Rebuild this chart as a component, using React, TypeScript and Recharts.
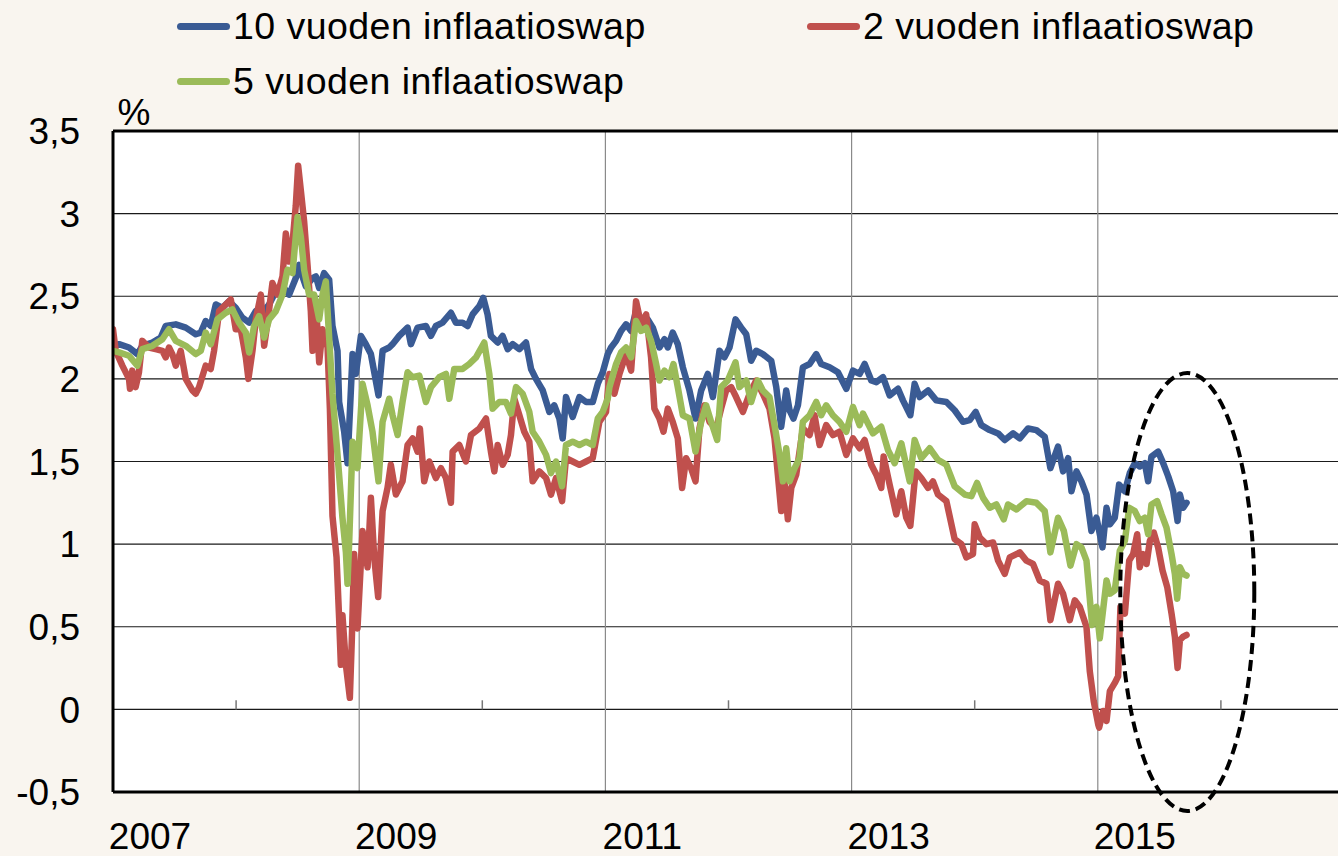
import React from "react";
import {
  LineChart,
  Line,
  XAxis,
  YAxis,
  CartesianGrid,
  Legend,
  ReferenceLine,
  ReferenceDot,
} from "recharts";

// [decimal year, %]
const tenYear: [number, number][] = [
  [2007.0, 2.2], [2007.049, 2.21], [2007.13, 2.19], [2007.198, 2.15], [2007.238, 2.2], [2007.32, 2.22],
  [2007.388, 2.25], [2007.428, 2.32], [2007.51, 2.33], [2007.591, 2.31], [2007.672, 2.27], [2007.713, 2.28],
  [2007.753, 2.35], [2007.794, 2.32], [2007.835, 2.45], [2007.889, 2.43], [2007.943, 2.47], [2007.997, 2.43],
  [2008.051, 2.37], [2008.106, 2.34], [2008.16, 2.41], [2008.214, 2.4], [2008.268, 2.45], [2008.323, 2.53],
  [2008.377, 2.56], [2008.431, 2.51], [2008.485, 2.61], [2008.512, 2.69], [2008.539, 2.62], [2008.566, 2.56],
  [2008.621, 2.61], [2008.648, 2.62], [2008.675, 2.55], [2008.715, 2.64], [2008.756, 2.6], [2008.783, 2.32],
  [2008.824, 2.17], [2008.837, 1.86], [2008.878, 1.68], [2008.905, 1.49], [2008.946, 2.15], [2008.973, 2.03],
  [2009.014, 2.26], [2009.054, 2.21], [2009.095, 2.15], [2009.157, 1.9], [2009.19, 2.17], [2009.244, 2.19],
  [2009.271, 2.21], [2009.325, 2.26], [2009.393, 2.31], [2009.42, 2.21], [2009.474, 2.31], [2009.542, 2.32],
  [2009.583, 2.26], [2009.623, 2.32], [2009.677, 2.34], [2009.745, 2.4], [2009.786, 2.34], [2009.84, 2.34],
  [2009.881, 2.32], [2009.921, 2.39], [2009.976, 2.44], [2010.008, 2.49], [2010.043, 2.39], [2010.07, 2.26],
  [2010.125, 2.22], [2010.165, 2.26], [2010.206, 2.18], [2010.247, 2.21], [2010.301, 2.18], [2010.355, 2.22],
  [2010.396, 2.06], [2010.436, 2.0], [2010.491, 1.93], [2010.545, 1.8], [2010.585, 1.84], [2010.626, 1.76],
  [2010.653, 1.64], [2010.68, 1.89], [2010.734, 1.77], [2010.789, 1.89], [2010.843, 1.86], [2010.897, 1.86],
  [2010.938, 1.97], [2010.978, 2.04], [2011.019, 2.15], [2011.046, 2.19], [2011.087, 2.23], [2011.127, 2.29],
  [2011.168, 2.33], [2011.209, 2.29], [2011.249, 2.41], [2011.29, 2.35], [2011.344, 2.36], [2011.385, 2.31],
  [2011.439, 2.19], [2011.48, 2.24], [2011.507, 2.19], [2011.547, 2.28], [2011.588, 2.21], [2011.629, 2.07],
  [2011.683, 1.93], [2011.732, 1.76], [2011.778, 1.93], [2011.832, 2.03], [2011.873, 1.89], [2011.927, 2.17],
  [2011.967, 2.13], [2012.008, 2.19], [2012.057, 2.36], [2012.103, 2.31], [2012.144, 2.27], [2012.184, 2.11],
  [2012.225, 2.17], [2012.279, 2.15], [2012.347, 2.11], [2012.388, 1.95], [2012.428, 1.71], [2012.469, 1.93],
  [2012.496, 1.81], [2012.528, 1.76], [2012.564, 1.84], [2012.604, 2.07], [2012.659, 2.09], [2012.713, 2.15],
  [2012.753, 2.09], [2012.821, 2.07], [2012.889, 2.04], [2012.957, 1.94], [2013.011, 2.05], [2013.065, 2.03],
  [2013.106, 2.09], [2013.16, 1.99], [2013.201, 1.98], [2013.255, 2.01], [2013.309, 1.9], [2013.377, 1.94],
  [2013.417, 1.87], [2013.477, 1.78], [2013.512, 1.97], [2013.553, 1.89], [2013.621, 1.93], [2013.688, 1.87],
  [2013.77, 1.86], [2013.837, 1.81], [2013.905, 1.74], [2013.959, 1.75], [2014.008, 1.8], [2014.054, 1.72],
  [2014.122, 1.69], [2014.19, 1.67], [2014.244, 1.63], [2014.312, 1.67], [2014.366, 1.64], [2014.434, 1.7],
  [2014.501, 1.69], [2014.569, 1.65], [2014.615, 1.46], [2014.677, 1.59], [2014.718, 1.44], [2014.759, 1.52],
  [2014.786, 1.32], [2014.827, 1.44], [2014.867, 1.38], [2014.908, 1.3], [2014.948, 1.08], [2014.989, 1.16],
  [2015.038, 0.98], [2015.071, 1.22], [2015.098, 1.12], [2015.138, 1.16], [2015.173, 1.36], [2015.22, 1.32],
  [2015.26, 1.43], [2015.301, 1.49], [2015.341, 1.47], [2015.382, 1.49], [2015.409, 1.38], [2015.436, 1.53],
  [2015.49, 1.56], [2015.531, 1.49], [2015.572, 1.41], [2015.612, 1.32], [2015.648, 1.14], [2015.667, 1.3],
  [2015.694, 1.22], [2015.721, 1.25],
];

const twoYear: [number, number][] = [
  [2007.0, 2.3], [2007.022, 2.17], [2007.076, 2.08], [2007.13, 2.0], [2007.138, 1.94], [2007.157, 2.05],
  [2007.184, 1.95], [2007.211, 2.04], [2007.238, 2.23], [2007.293, 2.19], [2007.347, 2.18], [2007.401, 2.17],
  [2007.428, 2.13], [2007.455, 2.19], [2007.482, 2.15], [2007.51, 2.08], [2007.55, 2.17], [2007.591, 2.0],
  [2007.645, 1.93], [2007.672, 1.91], [2007.699, 1.95], [2007.753, 2.08], [2007.794, 2.06], [2007.821, 2.17],
  [2007.862, 2.41], [2007.916, 2.45], [2007.957, 2.48], [2007.997, 2.3], [2008.038, 2.3], [2008.079, 2.13],
  [2008.1, 2.0], [2008.133, 2.17], [2008.16, 2.36], [2008.201, 2.51], [2008.228, 2.2], [2008.255, 2.34],
  [2008.295, 2.58], [2008.336, 2.51], [2008.377, 2.62], [2008.404, 2.88], [2008.431, 2.71], [2008.458, 2.82],
  [2008.485, 3.05], [2008.504, 3.29], [2008.526, 3.14], [2008.553, 2.95], [2008.58, 2.69], [2008.607, 2.41],
  [2008.621, 2.17], [2008.648, 2.47], [2008.675, 2.1], [2008.702, 2.3], [2008.743, 2.19], [2008.762, 1.82],
  [2008.783, 1.17], [2008.816, 0.92], [2008.837, 0.55], [2008.851, 0.27], [2008.864, 0.57], [2008.892, 0.27],
  [2008.924, 0.07], [2008.94, 0.42], [2008.959, 0.94], [2008.986, 0.49], [2009.027, 1.08], [2009.068, 0.86],
  [2009.095, 1.28], [2009.122, 0.92], [2009.154, 0.68], [2009.19, 1.2], [2009.23, 1.34], [2009.257, 1.48],
  [2009.298, 1.3], [2009.352, 1.38], [2009.393, 1.6], [2009.434, 1.64], [2009.474, 1.56], [2009.493, 1.7],
  [2009.528, 1.38], [2009.569, 1.5], [2009.623, 1.4], [2009.664, 1.46], [2009.705, 1.4], [2009.745, 1.25],
  [2009.759, 1.56], [2009.813, 1.6], [2009.867, 1.5], [2009.908, 1.66], [2009.976, 1.7], [2010.03, 1.76],
  [2010.07, 1.56], [2010.098, 1.44], [2010.125, 1.6], [2010.165, 1.48], [2010.206, 1.54], [2010.233, 1.66],
  [2010.26, 1.88], [2010.301, 1.78], [2010.341, 1.68], [2010.382, 1.62], [2010.409, 1.38], [2010.463, 1.44],
  [2010.518, 1.4], [2010.558, 1.3], [2010.599, 1.4], [2010.648, 1.26], [2010.68, 1.52], [2010.734, 1.5],
  [2010.789, 1.48], [2010.843, 1.5], [2010.897, 1.52], [2010.951, 1.74], [2011.005, 1.8], [2011.033, 2.03],
  [2011.073, 1.91], [2011.114, 2.03], [2011.168, 2.15], [2011.209, 2.05], [2011.249, 2.47], [2011.29, 2.33],
  [2011.331, 2.39], [2011.371, 2.13], [2011.398, 1.82], [2011.439, 1.76], [2011.472, 1.68], [2011.507, 1.82],
  [2011.547, 1.74], [2011.588, 1.64], [2011.623, 1.34], [2011.656, 1.52], [2011.696, 1.46], [2011.732, 1.38],
  [2011.764, 1.7], [2011.805, 1.84], [2011.846, 1.74], [2011.9, 1.7], [2011.94, 1.82], [2011.981, 1.93],
  [2012.022, 1.95], [2012.062, 1.89], [2012.117, 1.8], [2012.171, 1.91], [2012.225, 1.99], [2012.279, 1.91],
  [2012.333, 1.82], [2012.374, 1.64], [2012.401, 1.42], [2012.428, 1.2], [2012.455, 1.38], [2012.482, 1.15],
  [2012.51, 1.34], [2012.55, 1.42], [2012.604, 1.7], [2012.659, 1.66], [2012.699, 1.78], [2012.74, 1.6],
  [2012.794, 1.72], [2012.848, 1.66], [2012.902, 1.68], [2012.957, 1.54], [2013.011, 1.64], [2013.065, 1.58],
  [2013.106, 1.63], [2013.16, 1.48], [2013.201, 1.42], [2013.241, 1.34], [2013.26, 1.53], [2013.309, 1.36],
  [2013.363, 1.18], [2013.404, 1.32], [2013.444, 1.16], [2013.477, 1.11], [2013.52, 1.44], [2013.566, 1.4],
  [2013.621, 1.34], [2013.661, 1.38], [2013.702, 1.3], [2013.77, 1.26], [2013.837, 1.03], [2013.892, 1.0],
  [2013.932, 0.92], [2013.986, 0.94], [2014.0, 1.12], [2014.041, 1.04], [2014.095, 1.0], [2014.149, 1.01],
  [2014.19, 0.9], [2014.244, 0.82], [2014.285, 0.92], [2014.366, 0.95], [2014.42, 0.9], [2014.474, 0.88],
  [2014.528, 0.78], [2014.583, 0.76], [2014.615, 0.54], [2014.677, 0.76], [2014.718, 0.7], [2014.772, 0.54],
  [2014.813, 0.66], [2014.854, 0.62], [2014.908, 0.5], [2014.935, 0.23], [2014.967, 0.05], [2015.003, -0.09],
  [2015.011, -0.11], [2015.043, -0.01], [2015.071, -0.07], [2015.098, 0.11], [2015.138, 0.16], [2015.165, 0.2],
  [2015.184, 0.62], [2015.22, 0.58], [2015.255, 0.9], [2015.287, 0.94], [2015.32, 1.06], [2015.341, 0.86],
  [2015.368, 0.94], [2015.396, 0.88], [2015.423, 1.02], [2015.455, 1.07], [2015.49, 0.98], [2015.526, 0.84],
  [2015.564, 0.74], [2015.599, 0.58], [2015.626, 0.44], [2015.648, 0.25], [2015.667, 0.42], [2015.694, 0.44],
  [2015.721, 0.45],
];

const fiveYear: [number, number][] = [
  [2007.0, 2.17], [2007.049, 2.16], [2007.13, 2.14], [2007.198, 2.08], [2007.238, 2.18], [2007.32, 2.2],
  [2007.401, 2.24], [2007.455, 2.3], [2007.51, 2.23], [2007.591, 2.2], [2007.672, 2.15], [2007.713, 2.17],
  [2007.753, 2.28], [2007.794, 2.21], [2007.848, 2.36], [2007.916, 2.4], [2007.97, 2.42], [2008.024, 2.34],
  [2008.079, 2.28], [2008.106, 2.16], [2008.146, 2.32], [2008.187, 2.38], [2008.228, 2.25], [2008.268, 2.36],
  [2008.323, 2.41], [2008.377, 2.51], [2008.417, 2.66], [2008.458, 2.64], [2008.499, 2.98], [2008.526, 2.86],
  [2008.553, 2.66], [2008.593, 2.51], [2008.634, 2.51], [2008.675, 2.36], [2008.702, 2.51], [2008.729, 2.59],
  [2008.756, 2.25], [2008.783, 1.91], [2008.824, 1.54], [2008.864, 1.16], [2008.892, 0.95], [2008.905, 0.76],
  [2008.919, 1.02], [2008.946, 1.62], [2008.986, 1.46], [2009.027, 1.97], [2009.068, 1.84], [2009.108, 1.68],
  [2009.157, 1.38], [2009.19, 1.74], [2009.244, 1.88], [2009.271, 1.78], [2009.312, 1.66], [2009.352, 1.86],
  [2009.393, 2.04], [2009.434, 2.01], [2009.488, 2.02], [2009.542, 1.86], [2009.583, 1.95], [2009.65, 2.01],
  [2009.705, 2.03], [2009.732, 1.88], [2009.772, 2.06], [2009.84, 2.06], [2009.894, 2.09], [2009.949, 2.13],
  [2010.016, 2.22], [2010.057, 2.03], [2010.084, 1.82], [2010.138, 1.86], [2010.192, 1.86], [2010.233, 1.79],
  [2010.274, 1.95], [2010.328, 1.91], [2010.382, 1.8], [2010.409, 1.68], [2010.463, 1.62], [2010.518, 1.54],
  [2010.558, 1.43], [2010.599, 1.5], [2010.648, 1.35], [2010.68, 1.6], [2010.734, 1.62], [2010.789, 1.6],
  [2010.843, 1.62], [2010.897, 1.6], [2010.938, 1.76], [2010.978, 1.8], [2011.019, 1.88], [2011.033, 1.95],
  [2011.087, 2.09], [2011.127, 2.16], [2011.168, 2.19], [2011.209, 2.13], [2011.249, 2.35], [2011.29, 2.29],
  [2011.331, 2.31], [2011.371, 2.23], [2011.412, 2.09], [2011.439, 1.99], [2011.48, 2.05], [2011.52, 2.01],
  [2011.553, 2.09], [2011.588, 1.95], [2011.629, 1.78], [2011.683, 1.76], [2011.732, 1.56], [2011.778, 1.74],
  [2011.818, 1.84], [2011.859, 1.74], [2011.908, 1.63], [2011.94, 1.95], [2011.994, 1.99], [2012.057, 2.1],
  [2012.089, 1.95], [2012.144, 1.99], [2012.184, 1.86], [2012.238, 1.99], [2012.279, 1.93], [2012.333, 1.89],
  [2012.374, 1.72], [2012.415, 1.54], [2012.442, 1.38], [2012.469, 1.58], [2012.496, 1.38], [2012.537, 1.46],
  [2012.577, 1.52], [2012.604, 1.74], [2012.659, 1.78], [2012.713, 1.86], [2012.753, 1.78], [2012.794, 1.84],
  [2012.848, 1.78], [2012.902, 1.74], [2012.957, 1.68], [2013.011, 1.83], [2013.065, 1.72], [2013.092, 1.79],
  [2013.133, 1.73], [2013.173, 1.67], [2013.241, 1.71], [2013.295, 1.57], [2013.35, 1.49], [2013.404, 1.61],
  [2013.472, 1.38], [2013.512, 1.63], [2013.566, 1.52], [2013.634, 1.58], [2013.702, 1.51], [2013.77, 1.48],
  [2013.837, 1.35], [2013.919, 1.3], [2013.973, 1.29], [2014.019, 1.37], [2014.068, 1.28], [2014.122, 1.22],
  [2014.176, 1.24], [2014.236, 1.15], [2014.271, 1.24], [2014.339, 1.21], [2014.42, 1.26], [2014.501, 1.25],
  [2014.569, 1.2], [2014.615, 0.95], [2014.677, 1.16], [2014.724, 1.08], [2014.778, 0.87], [2014.827, 1.0],
  [2014.867, 0.98], [2014.908, 0.9], [2014.954, 0.51], [2014.989, 0.62], [2015.016, 0.43], [2015.071, 0.78],
  [2015.098, 0.7], [2015.138, 0.72], [2015.179, 0.96], [2015.22, 1.02], [2015.255, 1.22], [2015.301, 1.2],
  [2015.341, 1.14], [2015.382, 1.16], [2015.409, 1.06], [2015.436, 1.24], [2015.482, 1.26], [2015.518, 1.18],
  [2015.558, 1.1], [2015.599, 0.94], [2015.626, 0.82], [2015.645, 0.67], [2015.667, 0.86], [2015.694, 0.82],
  [2015.721, 0.81],
];

const yearLabels = [2007, 2009, 2011, 2013, 2015];
const minorYears = [2008, 2010, 2012, 2014, 2016];
const yTicks = [-0.5, 0, 0.5, 1, 1.5, 2, 2.5, 3, 3.5];

// dashed oval drawn around the latest months
const highlightCenter = { t: 2015.727, v: 0.71 };

const series = [
  { name: "10 vuoden inflaatioswap", color: "#3a5b94", points: tenYear },
  { name: "2 vuoden inflaatioswap", color: "#c0504d", points: twoYear },
  { name: "5 vuoden inflaatioswap", color: "#9bbb59", points: fiveYear },
];

const FONT = "'Liberation Sans', Arial, sans-serif";
const legendSpots = [
  { left: 177, top: 5 },
  { left: 807, top: 5 },
  { left: 177, top: 60 },
];

function LegendBox({ payload }: any) {
  return (
    <div style={{ position: "relative", width: 1338, height: 110 }}>
      {(payload || []).map((item: any, i: number) => (
        <div
          key={item.value}
          style={{
            position: "absolute",
            left: legendSpots[i].left,
            top: legendSpots[i].top,
            display: "flex",
            alignItems: "center",
            fontFamily: FONT,
            fontSize: 37.5,
            letterSpacing: 0.45,
            color: "#000",
            whiteSpace: "nowrap",
            lineHeight: "42px",
          }}
        >
          <span
            style={{
              display: "inline-block",
              width: 53,
              height: 7,
              borderRadius: 3.5,
              background: item.color,
              marginRight: 3,
            }}
          />
          {item.value}
        </div>
      ))}
    </div>
  );
}

function YearTick({ x, y, payload }: any) {
  return (
    <text x={x + 37} y={y + 49} textAnchor="middle" fontFamily={FONT} fontSize={37} fill="#000">
      {payload.value}
    </text>
  );
}

function Oval({ cx, cy }: any) {
  return (
    <ellipse cx={cx} cy={cy} rx={67} ry={219} fill="none" stroke="#000" strokeWidth={4} strokeDasharray="11 6" />
  );
}

export default function App() {
  return (
    <div
      style={{
        position: "absolute",
        left: 0,
        top: 0,
        width: 1338,
        height: 856,
        overflow: "hidden",
        background: "#f9f5ef",
      }}
    >
      <LineChart width={1346} height={856} margin={{ top: 131, right: 2, bottom: 0, left: 0 }}>
        <CartesianGrid horizontal={true} vertical={false} stroke="#1a1a1a" strokeWidth={1.2} fill="#ffffff" />
        <CartesianGrid horizontal={false} vertical={true} stroke="#8a8a8a" strokeWidth={1.2} />
        <XAxis
          type="number"
          dataKey="t"
          domain={[2007, 2017]}
          ticks={yearLabels}
          tick={<YearTick />}
          tickLine={false}
          axisLine={{ stroke: "#000", strokeWidth: 3 }}
          height={64}
          allowDataOverflow
        />
        <YAxis
          type="number"
          domain={[-0.5, 3.5]}
          ticks={yTicks}
          width={113}
          tickLine={false}
          tickSize={0}
          tickMargin={33}
          tickFormatter={(v: number) => String(v).replace(".", ",")}
          tick={{ fontFamily: FONT, fontSize: 37, fill: "#000" }}
          axisLine={{ stroke: "#000", strokeWidth: 3 }}
          label={{
            content: ({ viewBox }: any) => (
              <text
                x={viewBox.x + viewBox.width + 21}
                y={viewBox.y - 6}
                textAnchor="middle"
                fontFamily={FONT}
                fontSize={37}
                fill="#000"
              >
                %
              </text>
            ),
          }}
        />
        <ReferenceLine y={3.5} stroke="#000" strokeWidth={3} />
        {minorYears.map((yr) => (
          <ReferenceLine
            key={yr}
            segment={[
              { x: yr, y: 0 },
              { x: yr, y: 0.055 },
            ]}
            stroke="#777"
            strokeWidth={1.5}
          />
        ))}
        <Legend
          layout="horizontal"
          verticalAlign="middle"
          align="center"
          wrapperStyle={{ position: "absolute", top: 0, left: 0, width: 1338 }}
          content={<LegendBox />}
        />
        {series.map((s) => (
          <Line
            key={s.name}
            name={s.name}
            data={s.points.map(([t, v]) => ({ t, v }))}
            dataKey="v"
            type="linear"
            stroke={s.color}
            strokeWidth={6.5}
            strokeLinejoin="round"
            strokeLinecap="round"
            dot={false}
            activeDot={false}
            isAnimationActive={false}
          />
        ))}
        <ReferenceDot x={highlightCenter.t} y={highlightCenter.v} shape={<Oval />} ifOverflow="visible" />
      </LineChart>
    </div>
  );
}
